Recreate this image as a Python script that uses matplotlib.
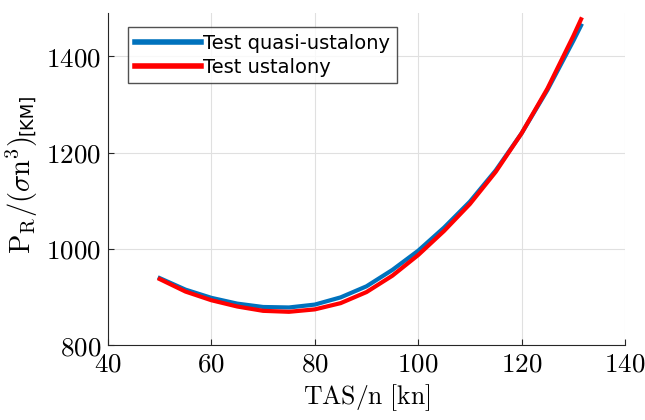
import numpy as np
import matplotlib.pyplot as plt
from matplotlib.ticker import FuncFormatter

plt.rcParams['mathtext.fontset'] = 'cm'
plt.rcParams['font.family'] = 'DejaVu Sans'

# values
tas = [50, 55, 60, 65, 70, 75, 80, 85, 90, 95, 100, 105, 110, 115, 120, 125, 130, 131.5]
p_quasi = [939, 915, 898, 886, 879, 878, 884, 899, 922, 956, 996, 1044, 1098, 1163, 1240, 1330, 1432, 1464]
p_steady = [937, 911, 893, 880, 871, 869, 874, 887, 910, 944, 987, 1037, 1093, 1160, 1240, 1333, 1442, 1477]
labels = ["Test quasi-ustalony", "Test ustalony"]

fig = plt.figure(figsize=(6.45, 4.2), dpi=100)
ax = fig.add_axes([108/645, 1 - 345/420, 517/645, 332/420])

ax.plot(tas, p_quasi, color='#0072BD', lw=3, label=labels[0], solid_joinstyle='round')
ax.plot(tas, p_steady, color='#FF0000', lw=3, label=labels[1], solid_joinstyle='round')

ax.set_xlim(40, 140)
ax.set_ylim(800, 1490)
ax.set_xticks([40, 60, 80, 100, 120, 140])
ax.set_yticks([800, 1000, 1200, 1400])
fmt = FuncFormatter(lambda v, p: r'$%d$' % v)
ax.xaxis.set_major_formatter(fmt)
ax.yaxis.set_major_formatter(fmt)
ax.tick_params(direction='in', length=4, width=0.8, color='#262626', labelsize=19.5)
ax.tick_params(axis='x', pad=5)
ax.tick_params(axis='y', pad=5)

ax.spines['top'].set_visible(False)
ax.spines['right'].set_visible(False)
for s in ['left', 'bottom']:
    ax.spines[s].set_color('#262626')
    ax.spines[s].set_linewidth(0.8)

ax.grid(True, color='#e0e0e0', lw=0.8)
ax.set_axisbelow(True)

ax.set_xlabel(r'$\mathrm{TAS/n\ [kn]}$', fontsize=18.5, labelpad=3)

# y label: math part + small sans unit
fig.text(22/645, 1 - 195/420, r'$\mathrm{P_R/(\sigma n^3)}$', rotation=90,
         fontsize=20.5, ha='center', va='center')
fig.text(27/645, 1 - 114/420, '[KM]', rotation=90, fontsize=13,
         ha='center', va='center')

leg = ax.legend(loc='upper left', bbox_to_anchor=(20/517, 1 - 14/332), borderaxespad=0,
                fontsize=14, frameon=True, fancybox=False, edgecolor='#262626',
                handlelength=3.4, handletextpad=0.1, borderpad=0.35, labelspacing=0.25)
leg.get_frame().set_linewidth(1.0)
for line in leg.get_lines():
    line.set_linewidth(4)

fig.savefig('out.png', dpi=100)
